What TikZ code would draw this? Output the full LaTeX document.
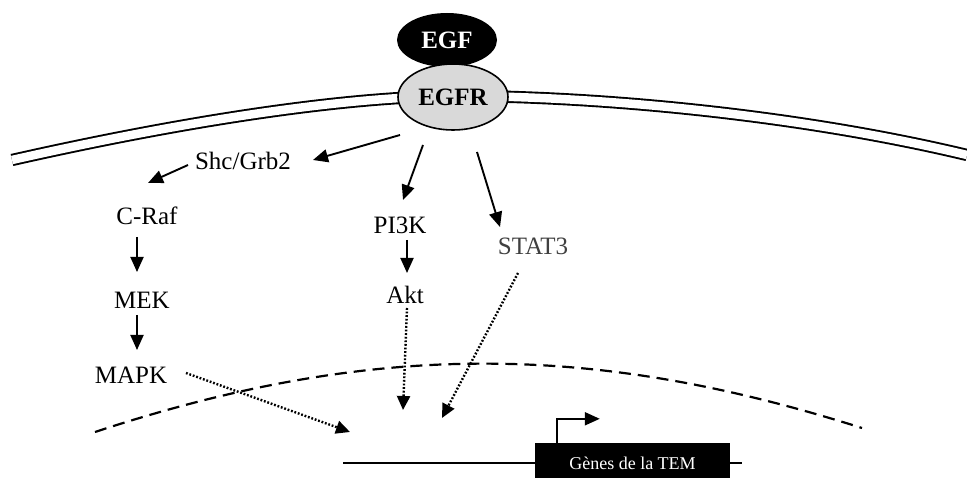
\documentclass[tikz,border=0pt]{standalone}
\usepackage{fontspec}
\setmainfont{Liberation Serif}
\usetikzlibrary{arrows.meta,shapes.geometric}

\begin{document}
\begin{tikzpicture}[x=1bp, y=-1bp,
    prot/.style={font=\fontsize{25bp}{30bp}\selectfont, inner sep=0pt, text height=16.5bp, text depth=0pt},
    arr/.style={line width=1.9bp, -{Triangle[length=15bp, width=13bp]}},
    signal/.style={line width=2.4bp, dash pattern=on 1.8bp off 1.8bp, -{Triangle[length=14bp, width=13bp]}}]
  \useasboundingbox (0,0) rectangle (967,478);

  \draw[line width=1.9bp, double=white, double distance=8.5bp] (12,160) .. controls (180,122) and (340,97) .. (453,96) .. controls (600,96) and (800,115) .. (967,155);

  \draw[line width=2.2bp, dash pattern=on 12bp off 7bp] (95,432) .. controls (380,338) and (600,345) .. (862,428);

  \node[ellipse, fill=black, minimum width=100bp, minimum height=54bp, inner sep=0pt, text=white, font=\fontsize{25bp}{30bp}\selectfont\bfseries] (egf) at (447,40) {EGF};
  \node[ellipse, draw, line width=1.6bp, fill=black!15, minimum width=110bp, minimum height=66bp, inner sep=0pt, font=\fontsize{25bp}{30bp}\selectfont\bfseries] (egfr) at (453,97) {EGFR};

  \node[prot] (shc) at (243,161) {Shc/Grb2};
  \node[prot] (craf) at (147,216) {C-Raf};
  \node[prot] (mek) at (142,300) {MEK};
  \node[prot] (mapk) at (131,375) {MAPK};
  \node[prot] (pik) at (400,225) {PI3K};
  \node[prot] (akt) at (405,295) {Akt};
  \node[prot, text=black!75] (stat) at (533,246) {STAT3};

  \draw[arr] ([shift={(-53,38)}]egfr.center) -- ([shift={(70,-1)}]shc.center);
  \draw[arr] ([shift={(-30,48)}]egfr.center) -- ([shift={(3,-25)}]pik.center);
  \draw[arr] ([shift={(24,55)}]egfr.center) -- ([shift={(-33,-19)}]stat.center);
  \draw[arr] ([shift={(-55,4)}]shc.center) -- ([shift={(1,-33)}]craf.center);
  \draw[arr] ([shift={(-10,21)}]craf.center) -- ([shift={(-5,-28)}]mek.center);
  \draw[arr] ([shift={(-5,15)}]mek.center) -- ([shift={(6,-25)}]mapk.center);
  \draw[arr] ([shift={(7,15)}]pik.center) -- ([shift={(2,-22)}]akt.center);

  \coordinate (inMapk) at (350,432);
  \coordinate (inAkt) at (403,410);
  \coordinate (inStat) at (442,418);
  \draw[signal] ([shift={(55,-2)}]mapk.center) -- (inMapk);
  \draw[signal] ([shift={(2,13)}]akt.center) -- (inAkt);
  \draw[signal] ([shift={(-15,27)}]stat.center) -- (inStat);

  \coordinate (dnaL) at (343,463);
  \coordinate (dnaR) at (742,463);
  \draw[line width=2bp] (dnaL) -- (dnaR);
  \node[fill=black, minimum width=195bp, minimum height=40bp, inner sep=0pt, text=white, font=\fontsize{18bp}{22bp}\selectfont] (tem) at (632.5,463) {Gènes de la TEM};
  \draw[line width=2bp, -{Triangle[length=15bp, width=13bp]}] ([shift={(22,0)}]tem.north west) -- ++(0,-24) -- ++(43,0);
\end{tikzpicture}
\end{document}
